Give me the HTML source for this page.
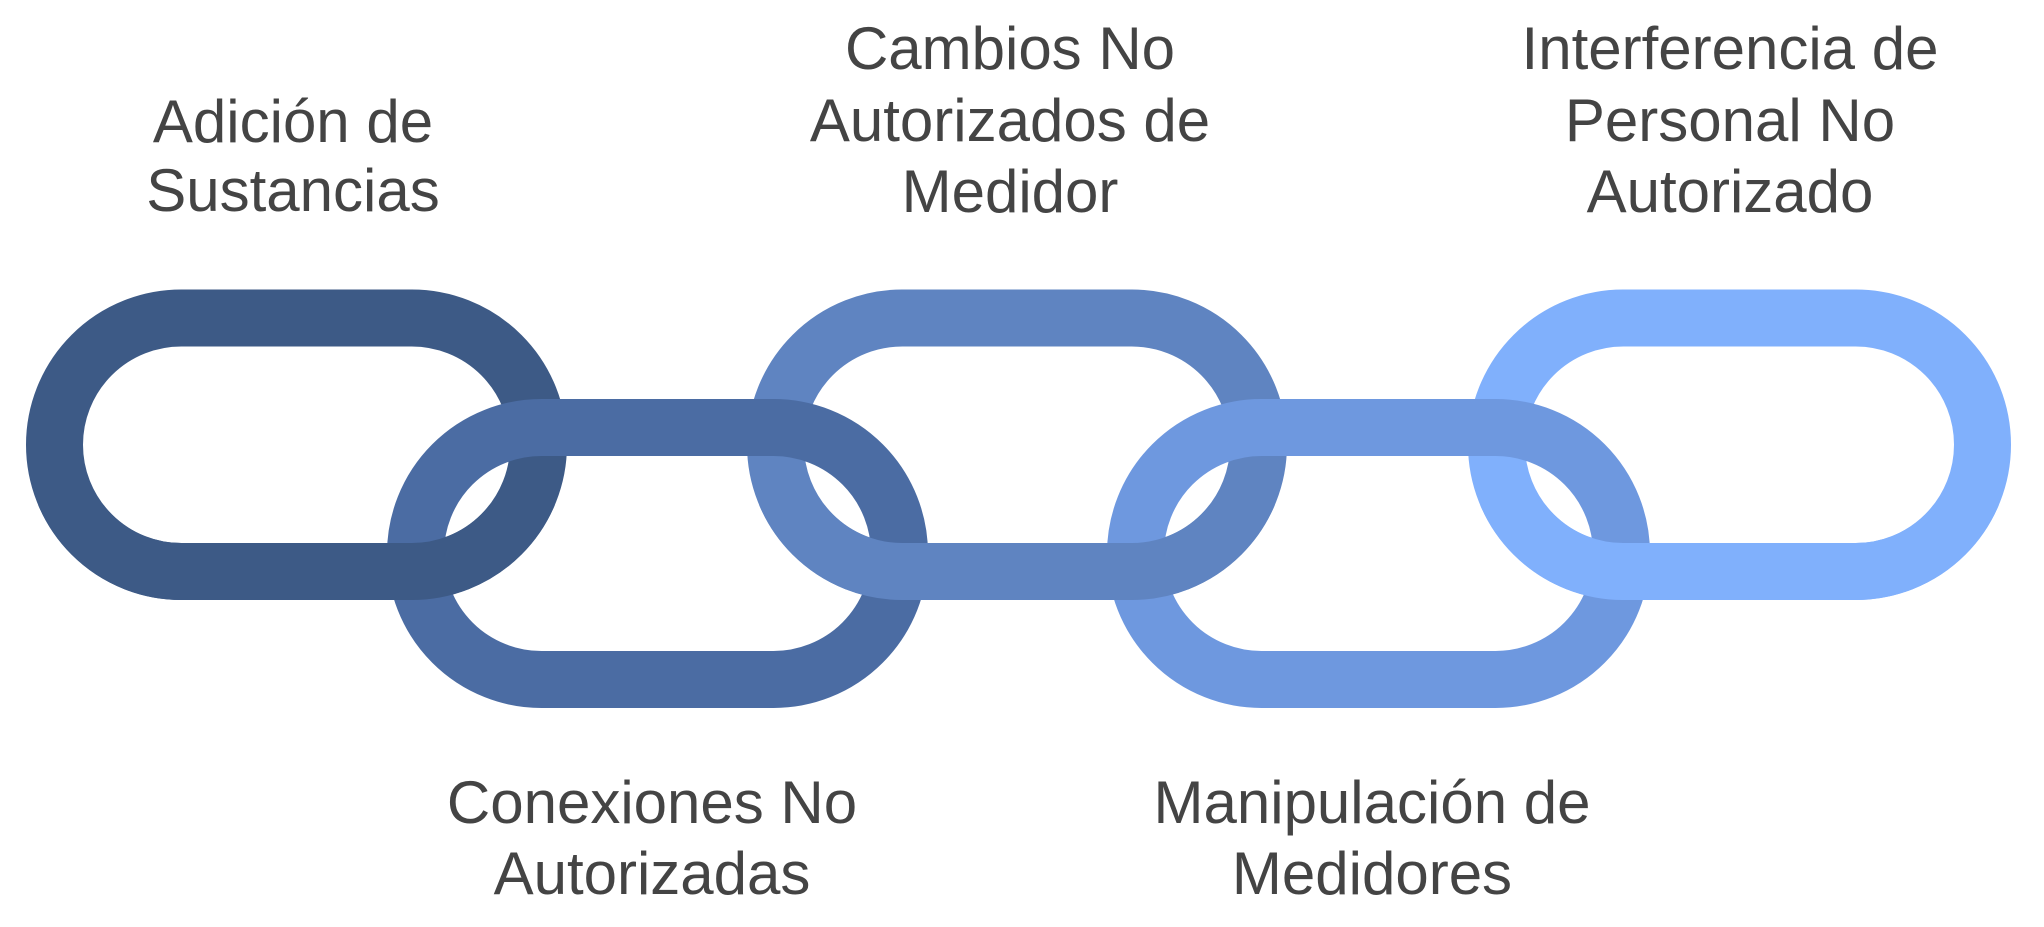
<!DOCTYPE html>
<html><head><meta charset="utf-8"><style>
html,body{margin:0;padding:0;background:#fff;}
svg{display:block}
text{font-family:"Liberation Sans",Arial,sans-serif;font-size:60px;fill:#444;text-anchor:middle}
</style></head><body>
<svg width="2044" height="927" viewBox="0 0 2044 927" xmlns="http://www.w3.org/2000/svg">
<defs>
<clipPath id="bot"><rect x="0" y="505" width="2044" height="200"/></clipPath>
<rect id="l1" x="54.5" y="318" width="484" height="253.5" rx="126.75" fill="none" stroke="#3d5a86" stroke-width="57"/>
<rect id="l3" x="775.5" y="318" width="483" height="253.5" rx="126.75" fill="none" stroke="#5f84c1" stroke-width="57"/>
<rect id="l5" x="1496.5" y="318" width="486" height="253.5" rx="126.75" fill="none" stroke="#80b0fc" stroke-width="57"/>
</defs>
<use href="#l1"/><use href="#l3"/><use href="#l5"/>
<rect x="415.5" y="427.5" width="484" height="252" rx="126" fill="none" stroke="#4b6ca3" stroke-width="57"/>
<rect x="1135.5" y="427.5" width="486" height="252" rx="126" fill="none" stroke="#6e98df" stroke-width="57"/>
<g clip-path="url(#bot)"><use href="#l1"/><use href="#l3"/><use href="#l5"/></g>
<text x="293" y="142">Adición de</text>
<text x="293" y="211">Sustancias</text>
<text x="1010" y="69">Cambios No</text>
<text x="1010" y="141">Autorizados de</text>
<text x="1010" y="212">Medidor</text>
<text x="1730" y="69">Interferencia de</text>
<text x="1730" y="141">Personal No</text>
<text x="1730" y="212">Autorizado</text>
<text x="652" y="823">Conexiones No</text>
<text x="652" y="894">Autorizadas</text>
<text x="1372" y="823">Manipulación de</text>
<text x="1372" y="894">Medidores</text>
</svg>
</body></html>
